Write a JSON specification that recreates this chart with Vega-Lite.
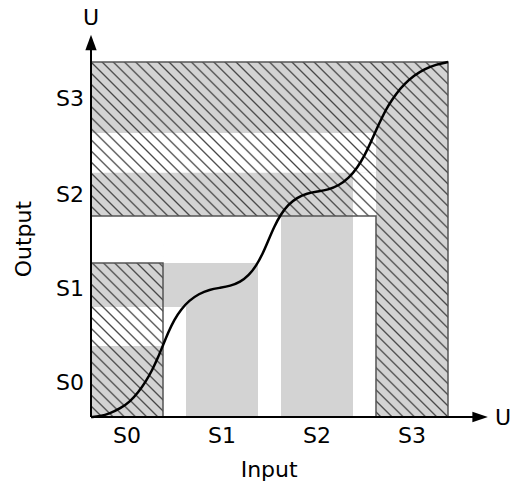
{
  "$schema": "https://vega.github.io/schema/vega-lite/v6.json",
  "width": 357,
  "height": 355,
  "autosize": "none",
  "padding": {"left": 91, "top": 62, "right": 65, "bottom": 64},
  "background": "white",
  "config": {"view": {"stroke": null}, "font": "DejaVu Sans"},
  "datasets": {
    "regions": [
      {"layer": "hatched", "tone": "shaded", "x": 0, "x2": 20.17, "y": 0, "y2": 43.4},
      {"layer": "hatched", "tone": "clear", "x": 0, "x2": 20.17, "y": 20, "y2": 31},
      {"layer": "hatched", "tone": "shaded", "x": 0, "x2": 100, "y": 56.6, "y2": 100},
      {"layer": "hatched", "tone": "clear", "x": 0, "x2": 79.83, "y": 68.8, "y2": 80},
      {"layer": "hatched", "tone": "clear", "x": 73.39, "x2": 79.83, "y": 56.6, "y2": 68.8},
      {"layer": "hatched", "tone": "shaded", "x": 79.83, "x2": 100, "y": 0, "y2": 56.6},
      {"layer": "plain", "tone": "clear", "x": 20.17, "x2": 79.83, "y": 0, "y2": 56.6},
      {"layer": "plain", "tone": "clear", "x": 0, "x2": 20.17, "y": 43.4, "y2": 56.6},
      {"layer": "plain", "tone": "shaded", "x": 26.61, "x2": 46.78, "y": 0, "y2": 43.4},
      {"layer": "plain", "tone": "shaded", "x": 20.17, "x2": 46.78, "y": 31, "y2": 43.4},
      {"layer": "plain", "tone": "shaded", "x": 53.22, "x2": 73.39, "y": 0, "y2": 56.6}
    ],
    "frame": [{"x": 0, "x2": 100, "y": 0, "y2": 100}],
    "outline": [
      {"g": "top", "i": 1, "x": 0, "y": 56.6},
      {"g": "top", "i": 2, "x": 79.83, "y": 56.6},
      {"g": "top", "i": 3, "x": 79.83, "y": 0},
      {"g": "top", "i": 4, "x": 100, "y": 0},
      {"g": "top", "i": 5, "x": 100, "y": 100},
      {"g": "top", "i": 6, "x": 0, "y": 100},
      {"g": "top", "i": 7, "x": 0, "y": 56.6},
      {"g": "s0", "i": 1, "x": 20.17, "y": 0},
      {"g": "s0", "i": 2, "x": 20.17, "y": 43.4},
      {"g": "s0", "i": 3, "x": 0, "y": 43.4}
    ],
    "curve": [
      {"x": 0, "y": 0}, {"x": 2.5, "y": 0.2}, {"x": 5.3, "y": 1.0}, {"x": 8.2, "y": 2.4}, {"x": 10.9, "y": 4.3},
      {"x": 13.2, "y": 6.9}, {"x": 15.3, "y": 9.9}, {"x": 17.2, "y": 13.3}, {"x": 18.8, "y": 16.8},
      {"x": 20.2, "y": 20.3}, {"x": 21.7, "y": 24.0}, {"x": 23.3, "y": 27.4}, {"x": 25.2, "y": 30.3},
      {"x": 27.5, "y": 32.8}, {"x": 30.2, "y": 34.7}, {"x": 33.2, "y": 35.9}, {"x": 36.2, "y": 36.4},
      {"x": 39.0, "y": 36.9}, {"x": 41.8, "y": 38.0}, {"x": 44.2, "y": 39.9}, {"x": 46.3, "y": 42.6},
      {"x": 48.1, "y": 46.0}, {"x": 49.7, "y": 49.8}, {"x": 51.3, "y": 53.6}, {"x": 53.1, "y": 57.0},
      {"x": 55.2, "y": 59.8}, {"x": 57.7, "y": 61.8}, {"x": 60.5, "y": 63.0}, {"x": 63.4, "y": 63.5},
      {"x": 66.4, "y": 64.0}, {"x": 69.4, "y": 65.2}, {"x": 72.2, "y": 67.3}, {"x": 74.6, "y": 70.2},
      {"x": 76.6, "y": 73.6}, {"x": 78.3, "y": 77.2}, {"x": 79.9, "y": 80.9}, {"x": 81.5, "y": 84.4},
      {"x": 83.3, "y": 87.8}, {"x": 85.4, "y": 91.0}, {"x": 87.8, "y": 93.8}, {"x": 90.5, "y": 96.2},
      {"x": 93.4, "y": 98.0}, {"x": 96.6, "y": 99.3}, {"x": 100, "y": 100}
    ],
    "axes": [
      {"x": 0, "y": 0, "x2": 107, "y2": 0},
      {"x": 0, "y": 0, "x2": 0, "y2": 104}
    ],
    "arrows": [
      {"dir": "up", "x": 0, "y": 105.5},
      {"dir": "right", "x": 109, "y": 0}
    ],
    "texts": [
      {"t": "S0", "x": 10.1, "y": -7.3},
      {"t": "S1", "x": 36.7, "y": -7.3},
      {"t": "S2", "x": 63.3, "y": -7.3},
      {"t": "S3", "x": 89.9, "y": -7.3},
      {"t": "S0", "x": -5.9, "y": 7.7},
      {"t": "S1", "x": -5.9, "y": 34.2},
      {"t": "S2", "x": -5.9, "y": 60.6},
      {"t": "S3", "x": -5.9, "y": 87.6},
      {"t": "Input", "x": 49.9, "y": -16.9},
      {"t": "U", "x": 0, "y": 110.4},
      {"t": "U", "x": 115.4, "y": -2.25}
    ],
    "vtexts": [
      {"t": "Output", "x": -16.8, "y": 50.1}
    ]
  },
  "layer": [
    {
      "data": {"name": "regions"},
      "transform": [{"filter": "datum.layer === 'hatched'"}],
      "mark": {"type": "rect", "strokeWidth": 0},
      "encoding": {
        "x": {"field": "x", "type": "quantitative", "scale": {"domain": [0, 100], "nice": false, "zero": false}, "axis": null},
        "x2": {"field": "x2"},
        "y": {"field": "y", "type": "quantitative", "scale": {"domain": [0, 100], "nice": false, "zero": false}, "axis": null},
        "y2": {"field": "y2"},
        "color": {"field": "tone", "type": "nominal", "scale": {"domain": ["shaded", "clear"], "range": ["#d3d3d3", "#ffffff"]}, "legend": null}
      }
    },
    {
      "data": {"name": "frame"},
      "mark": {
        "type": "rect",
        "strokeWidth": 0,
        "fill": {
          "gradient": "linear",
          "x1": 0, "y1": 1, "x2": 1, "y2": 0,
          "stops": [
            {"offset": 0, "color": "#444"}, {"offset": 0.0025, "color": "rgba(68,68,68,0)"},
            {"offset": 0.013125, "color": "rgba(68,68,68,0)"}, {"offset": 0.015625, "color": "#444"}, {"offset": 0.018125, "color": "rgba(68,68,68,0)"},
            {"offset": 0.02875, "color": "rgba(68,68,68,0)"}, {"offset": 0.03125, "color": "#444"}, {"offset": 0.03375, "color": "rgba(68,68,68,0)"},
            {"offset": 0.044375, "color": "rgba(68,68,68,0)"}, {"offset": 0.046875, "color": "#444"}, {"offset": 0.049375, "color": "rgba(68,68,68,0)"},
            {"offset": 0.06, "color": "rgba(68,68,68,0)"}, {"offset": 0.0625, "color": "#444"}, {"offset": 0.065, "color": "rgba(68,68,68,0)"},
            {"offset": 0.075625, "color": "rgba(68,68,68,0)"}, {"offset": 0.078125, "color": "#444"}, {"offset": 0.080625, "color": "rgba(68,68,68,0)"},
            {"offset": 0.09125, "color": "rgba(68,68,68,0)"}, {"offset": 0.09375, "color": "#444"}, {"offset": 0.09625, "color": "rgba(68,68,68,0)"},
            {"offset": 0.106875, "color": "rgba(68,68,68,0)"}, {"offset": 0.109375, "color": "#444"}, {"offset": 0.111875, "color": "rgba(68,68,68,0)"},
            {"offset": 0.1225, "color": "rgba(68,68,68,0)"}, {"offset": 0.125, "color": "#444"}, {"offset": 0.1275, "color": "rgba(68,68,68,0)"},
            {"offset": 0.138125, "color": "rgba(68,68,68,0)"}, {"offset": 0.140625, "color": "#444"}, {"offset": 0.143125, "color": "rgba(68,68,68,0)"},
            {"offset": 0.15375, "color": "rgba(68,68,68,0)"}, {"offset": 0.15625, "color": "#444"}, {"offset": 0.15875, "color": "rgba(68,68,68,0)"},
            {"offset": 0.169375, "color": "rgba(68,68,68,0)"}, {"offset": 0.171875, "color": "#444"}, {"offset": 0.174375, "color": "rgba(68,68,68,0)"},
            {"offset": 0.185, "color": "rgba(68,68,68,0)"}, {"offset": 0.1875, "color": "#444"}, {"offset": 0.19, "color": "rgba(68,68,68,0)"},
            {"offset": 0.200625, "color": "rgba(68,68,68,0)"}, {"offset": 0.203125, "color": "#444"}, {"offset": 0.205625, "color": "rgba(68,68,68,0)"},
            {"offset": 0.21625, "color": "rgba(68,68,68,0)"}, {"offset": 0.21875, "color": "#444"}, {"offset": 0.22125, "color": "rgba(68,68,68,0)"},
            {"offset": 0.231875, "color": "rgba(68,68,68,0)"}, {"offset": 0.234375, "color": "#444"}, {"offset": 0.236875, "color": "rgba(68,68,68,0)"},
            {"offset": 0.2475, "color": "rgba(68,68,68,0)"}, {"offset": 0.25, "color": "#444"}, {"offset": 0.2525, "color": "rgba(68,68,68,0)"},
            {"offset": 0.263125, "color": "rgba(68,68,68,0)"}, {"offset": 0.265625, "color": "#444"}, {"offset": 0.268125, "color": "rgba(68,68,68,0)"},
            {"offset": 0.27875, "color": "rgba(68,68,68,0)"}, {"offset": 0.28125, "color": "#444"}, {"offset": 0.28375, "color": "rgba(68,68,68,0)"},
            {"offset": 0.294375, "color": "rgba(68,68,68,0)"}, {"offset": 0.296875, "color": "#444"}, {"offset": 0.299375, "color": "rgba(68,68,68,0)"},
            {"offset": 0.31, "color": "rgba(68,68,68,0)"}, {"offset": 0.3125, "color": "#444"}, {"offset": 0.315, "color": "rgba(68,68,68,0)"},
            {"offset": 0.325625, "color": "rgba(68,68,68,0)"}, {"offset": 0.328125, "color": "#444"}, {"offset": 0.330625, "color": "rgba(68,68,68,0)"},
            {"offset": 0.34125, "color": "rgba(68,68,68,0)"}, {"offset": 0.34375, "color": "#444"}, {"offset": 0.34625, "color": "rgba(68,68,68,0)"},
            {"offset": 0.356875, "color": "rgba(68,68,68,0)"}, {"offset": 0.359375, "color": "#444"}, {"offset": 0.361875, "color": "rgba(68,68,68,0)"},
            {"offset": 0.3725, "color": "rgba(68,68,68,0)"}, {"offset": 0.375, "color": "#444"}, {"offset": 0.3775, "color": "rgba(68,68,68,0)"},
            {"offset": 0.388125, "color": "rgba(68,68,68,0)"}, {"offset": 0.390625, "color": "#444"}, {"offset": 0.393125, "color": "rgba(68,68,68,0)"},
            {"offset": 0.40375, "color": "rgba(68,68,68,0)"}, {"offset": 0.40625, "color": "#444"}, {"offset": 0.40875, "color": "rgba(68,68,68,0)"},
            {"offset": 0.419375, "color": "rgba(68,68,68,0)"}, {"offset": 0.421875, "color": "#444"}, {"offset": 0.424375, "color": "rgba(68,68,68,0)"},
            {"offset": 0.435, "color": "rgba(68,68,68,0)"}, {"offset": 0.4375, "color": "#444"}, {"offset": 0.44, "color": "rgba(68,68,68,0)"},
            {"offset": 0.450625, "color": "rgba(68,68,68,0)"}, {"offset": 0.453125, "color": "#444"}, {"offset": 0.455625, "color": "rgba(68,68,68,0)"},
            {"offset": 0.46625, "color": "rgba(68,68,68,0)"}, {"offset": 0.46875, "color": "#444"}, {"offset": 0.47125, "color": "rgba(68,68,68,0)"},
            {"offset": 0.481875, "color": "rgba(68,68,68,0)"}, {"offset": 0.484375, "color": "#444"}, {"offset": 0.486875, "color": "rgba(68,68,68,0)"},
            {"offset": 0.4975, "color": "rgba(68,68,68,0)"}, {"offset": 0.5, "color": "#444"}, {"offset": 0.5025, "color": "rgba(68,68,68,0)"},
            {"offset": 0.513125, "color": "rgba(68,68,68,0)"}, {"offset": 0.515625, "color": "#444"}, {"offset": 0.518125, "color": "rgba(68,68,68,0)"},
            {"offset": 0.52875, "color": "rgba(68,68,68,0)"}, {"offset": 0.53125, "color": "#444"}, {"offset": 0.53375, "color": "rgba(68,68,68,0)"},
            {"offset": 0.544375, "color": "rgba(68,68,68,0)"}, {"offset": 0.546875, "color": "#444"}, {"offset": 0.549375, "color": "rgba(68,68,68,0)"},
            {"offset": 0.56, "color": "rgba(68,68,68,0)"}, {"offset": 0.5625, "color": "#444"}, {"offset": 0.565, "color": "rgba(68,68,68,0)"},
            {"offset": 0.575625, "color": "rgba(68,68,68,0)"}, {"offset": 0.578125, "color": "#444"}, {"offset": 0.580625, "color": "rgba(68,68,68,0)"},
            {"offset": 0.59125, "color": "rgba(68,68,68,0)"}, {"offset": 0.59375, "color": "#444"}, {"offset": 0.59625, "color": "rgba(68,68,68,0)"},
            {"offset": 0.606875, "color": "rgba(68,68,68,0)"}, {"offset": 0.609375, "color": "#444"}, {"offset": 0.611875, "color": "rgba(68,68,68,0)"},
            {"offset": 0.6225, "color": "rgba(68,68,68,0)"}, {"offset": 0.625, "color": "#444"}, {"offset": 0.6275, "color": "rgba(68,68,68,0)"},
            {"offset": 0.638125, "color": "rgba(68,68,68,0)"}, {"offset": 0.640625, "color": "#444"}, {"offset": 0.643125, "color": "rgba(68,68,68,0)"},
            {"offset": 0.65375, "color": "rgba(68,68,68,0)"}, {"offset": 0.65625, "color": "#444"}, {"offset": 0.65875, "color": "rgba(68,68,68,0)"},
            {"offset": 0.669375, "color": "rgba(68,68,68,0)"}, {"offset": 0.671875, "color": "#444"}, {"offset": 0.674375, "color": "rgba(68,68,68,0)"},
            {"offset": 0.685, "color": "rgba(68,68,68,0)"}, {"offset": 0.6875, "color": "#444"}, {"offset": 0.69, "color": "rgba(68,68,68,0)"},
            {"offset": 0.700625, "color": "rgba(68,68,68,0)"}, {"offset": 0.703125, "color": "#444"}, {"offset": 0.705625, "color": "rgba(68,68,68,0)"},
            {"offset": 0.71625, "color": "rgba(68,68,68,0)"}, {"offset": 0.71875, "color": "#444"}, {"offset": 0.72125, "color": "rgba(68,68,68,0)"},
            {"offset": 0.731875, "color": "rgba(68,68,68,0)"}, {"offset": 0.734375, "color": "#444"}, {"offset": 0.736875, "color": "rgba(68,68,68,0)"},
            {"offset": 0.7475, "color": "rgba(68,68,68,0)"}, {"offset": 0.75, "color": "#444"}, {"offset": 0.7525, "color": "rgba(68,68,68,0)"},
            {"offset": 0.763125, "color": "rgba(68,68,68,0)"}, {"offset": 0.765625, "color": "#444"}, {"offset": 0.768125, "color": "rgba(68,68,68,0)"},
            {"offset": 0.77875, "color": "rgba(68,68,68,0)"}, {"offset": 0.78125, "color": "#444"}, {"offset": 0.78375, "color": "rgba(68,68,68,0)"},
            {"offset": 0.794375, "color": "rgba(68,68,68,0)"}, {"offset": 0.796875, "color": "#444"}, {"offset": 0.799375, "color": "rgba(68,68,68,0)"},
            {"offset": 0.81, "color": "rgba(68,68,68,0)"}, {"offset": 0.8125, "color": "#444"}, {"offset": 0.815, "color": "rgba(68,68,68,0)"},
            {"offset": 0.825625, "color": "rgba(68,68,68,0)"}, {"offset": 0.828125, "color": "#444"}, {"offset": 0.830625, "color": "rgba(68,68,68,0)"},
            {"offset": 0.84125, "color": "rgba(68,68,68,0)"}, {"offset": 0.84375, "color": "#444"}, {"offset": 0.84625, "color": "rgba(68,68,68,0)"},
            {"offset": 0.856875, "color": "rgba(68,68,68,0)"}, {"offset": 0.859375, "color": "#444"}, {"offset": 0.861875, "color": "rgba(68,68,68,0)"},
            {"offset": 0.8725, "color": "rgba(68,68,68,0)"}, {"offset": 0.875, "color": "#444"}, {"offset": 0.8775, "color": "rgba(68,68,68,0)"},
            {"offset": 0.888125, "color": "rgba(68,68,68,0)"}, {"offset": 0.890625, "color": "#444"}, {"offset": 0.893125, "color": "rgba(68,68,68,0)"},
            {"offset": 0.90375, "color": "rgba(68,68,68,0)"}, {"offset": 0.90625, "color": "#444"}, {"offset": 0.90875, "color": "rgba(68,68,68,0)"},
            {"offset": 0.919375, "color": "rgba(68,68,68,0)"}, {"offset": 0.921875, "color": "#444"}, {"offset": 0.924375, "color": "rgba(68,68,68,0)"},
            {"offset": 0.935, "color": "rgba(68,68,68,0)"}, {"offset": 0.9375, "color": "#444"}, {"offset": 0.94, "color": "rgba(68,68,68,0)"},
            {"offset": 0.950625, "color": "rgba(68,68,68,0)"}, {"offset": 0.953125, "color": "#444"}, {"offset": 0.955625, "color": "rgba(68,68,68,0)"},
            {"offset": 0.96625, "color": "rgba(68,68,68,0)"}, {"offset": 0.96875, "color": "#444"}, {"offset": 0.97125, "color": "rgba(68,68,68,0)"},
            {"offset": 0.981875, "color": "rgba(68,68,68,0)"}, {"offset": 0.984375, "color": "#444"}, {"offset": 0.986875, "color": "rgba(68,68,68,0)"},
            {"offset": 0.9975, "color": "rgba(68,68,68,0)"}, {"offset": 1, "color": "#444"}
          ]
        }
      },
      "encoding": {
        "x": {"field": "x", "type": "quantitative"},
        "x2": {"field": "x2"},
        "y": {"field": "y", "type": "quantitative"},
        "y2": {"field": "y2"}
      }
    },
    {
      "data": {"name": "regions"},
      "transform": [{"filter": "datum.layer === 'plain'"}],
      "mark": {"type": "rect", "strokeWidth": 0},
      "encoding": {
        "x": {"field": "x", "type": "quantitative"},
        "x2": {"field": "x2"},
        "y": {"field": "y", "type": "quantitative"},
        "y2": {"field": "y2"},
        "color": {"field": "tone", "type": "nominal", "legend": null}
      }
    },
    {
      "data": {"name": "outline"},
      "mark": {"type": "line", "stroke": "#555555", "strokeWidth": 1.5},
      "encoding": {
        "x": {"field": "x", "type": "quantitative"},
        "y": {"field": "y", "type": "quantitative"},
        "detail": {"field": "g"},
        "order": {"field": "i", "type": "quantitative"}
      }
    },
    {
      "data": {"name": "curve"},
      "mark": {"type": "line", "stroke": "#000000", "strokeWidth": 2.5, "interpolate": "basis"},
      "encoding": {
        "x": {"field": "x", "type": "quantitative"},
        "y": {"field": "y", "type": "quantitative"}
      }
    },
    {
      "data": {"name": "axes"},
      "mark": {"type": "rule", "stroke": "#000000", "strokeWidth": 2},
      "encoding": {
        "x": {"field": "x", "type": "quantitative"},
        "y": {"field": "y", "type": "quantitative"},
        "x2": {"field": "x2"},
        "y2": {"field": "y2"}
      }
    },
    {
      "data": {"name": "arrows"},
      "mark": {"type": "point", "filled": true, "fill": "#000000", "strokeWidth": 0, "opacity": 1, "size": 240},
      "encoding": {
        "x": {"field": "x", "type": "quantitative"},
        "y": {"field": "y", "type": "quantitative"},
        "shape": {"field": "dir", "type": "nominal", "scale": {"domain": ["up", "right"], "range": ["M0,-1L0.73,1L-0.73,1Z", "M1,0L-1,-0.69L-1,0.69Z"]}, "legend": null}
      }
    },
    {
      "data": {"name": "texts"},
      "mark": {"type": "text", "font": "DejaVu Sans", "fontSize": 22, "align": "center", "baseline": "alphabetic", "color": "#000000"},
      "encoding": {
        "x": {"field": "x", "type": "quantitative"},
        "y": {"field": "y", "type": "quantitative"},
        "text": {"field": "t"}
      }
    },
    {
      "data": {"name": "vtexts"},
      "mark": {"type": "text", "font": "DejaVu Sans", "fontSize": 22, "align": "center", "baseline": "alphabetic", "angle": 270, "color": "#000000"},
      "encoding": {
        "x": {"field": "x", "type": "quantitative"},
        "y": {"field": "y", "type": "quantitative"},
        "text": {"field": "t"}
      }
    }
  ]
}
